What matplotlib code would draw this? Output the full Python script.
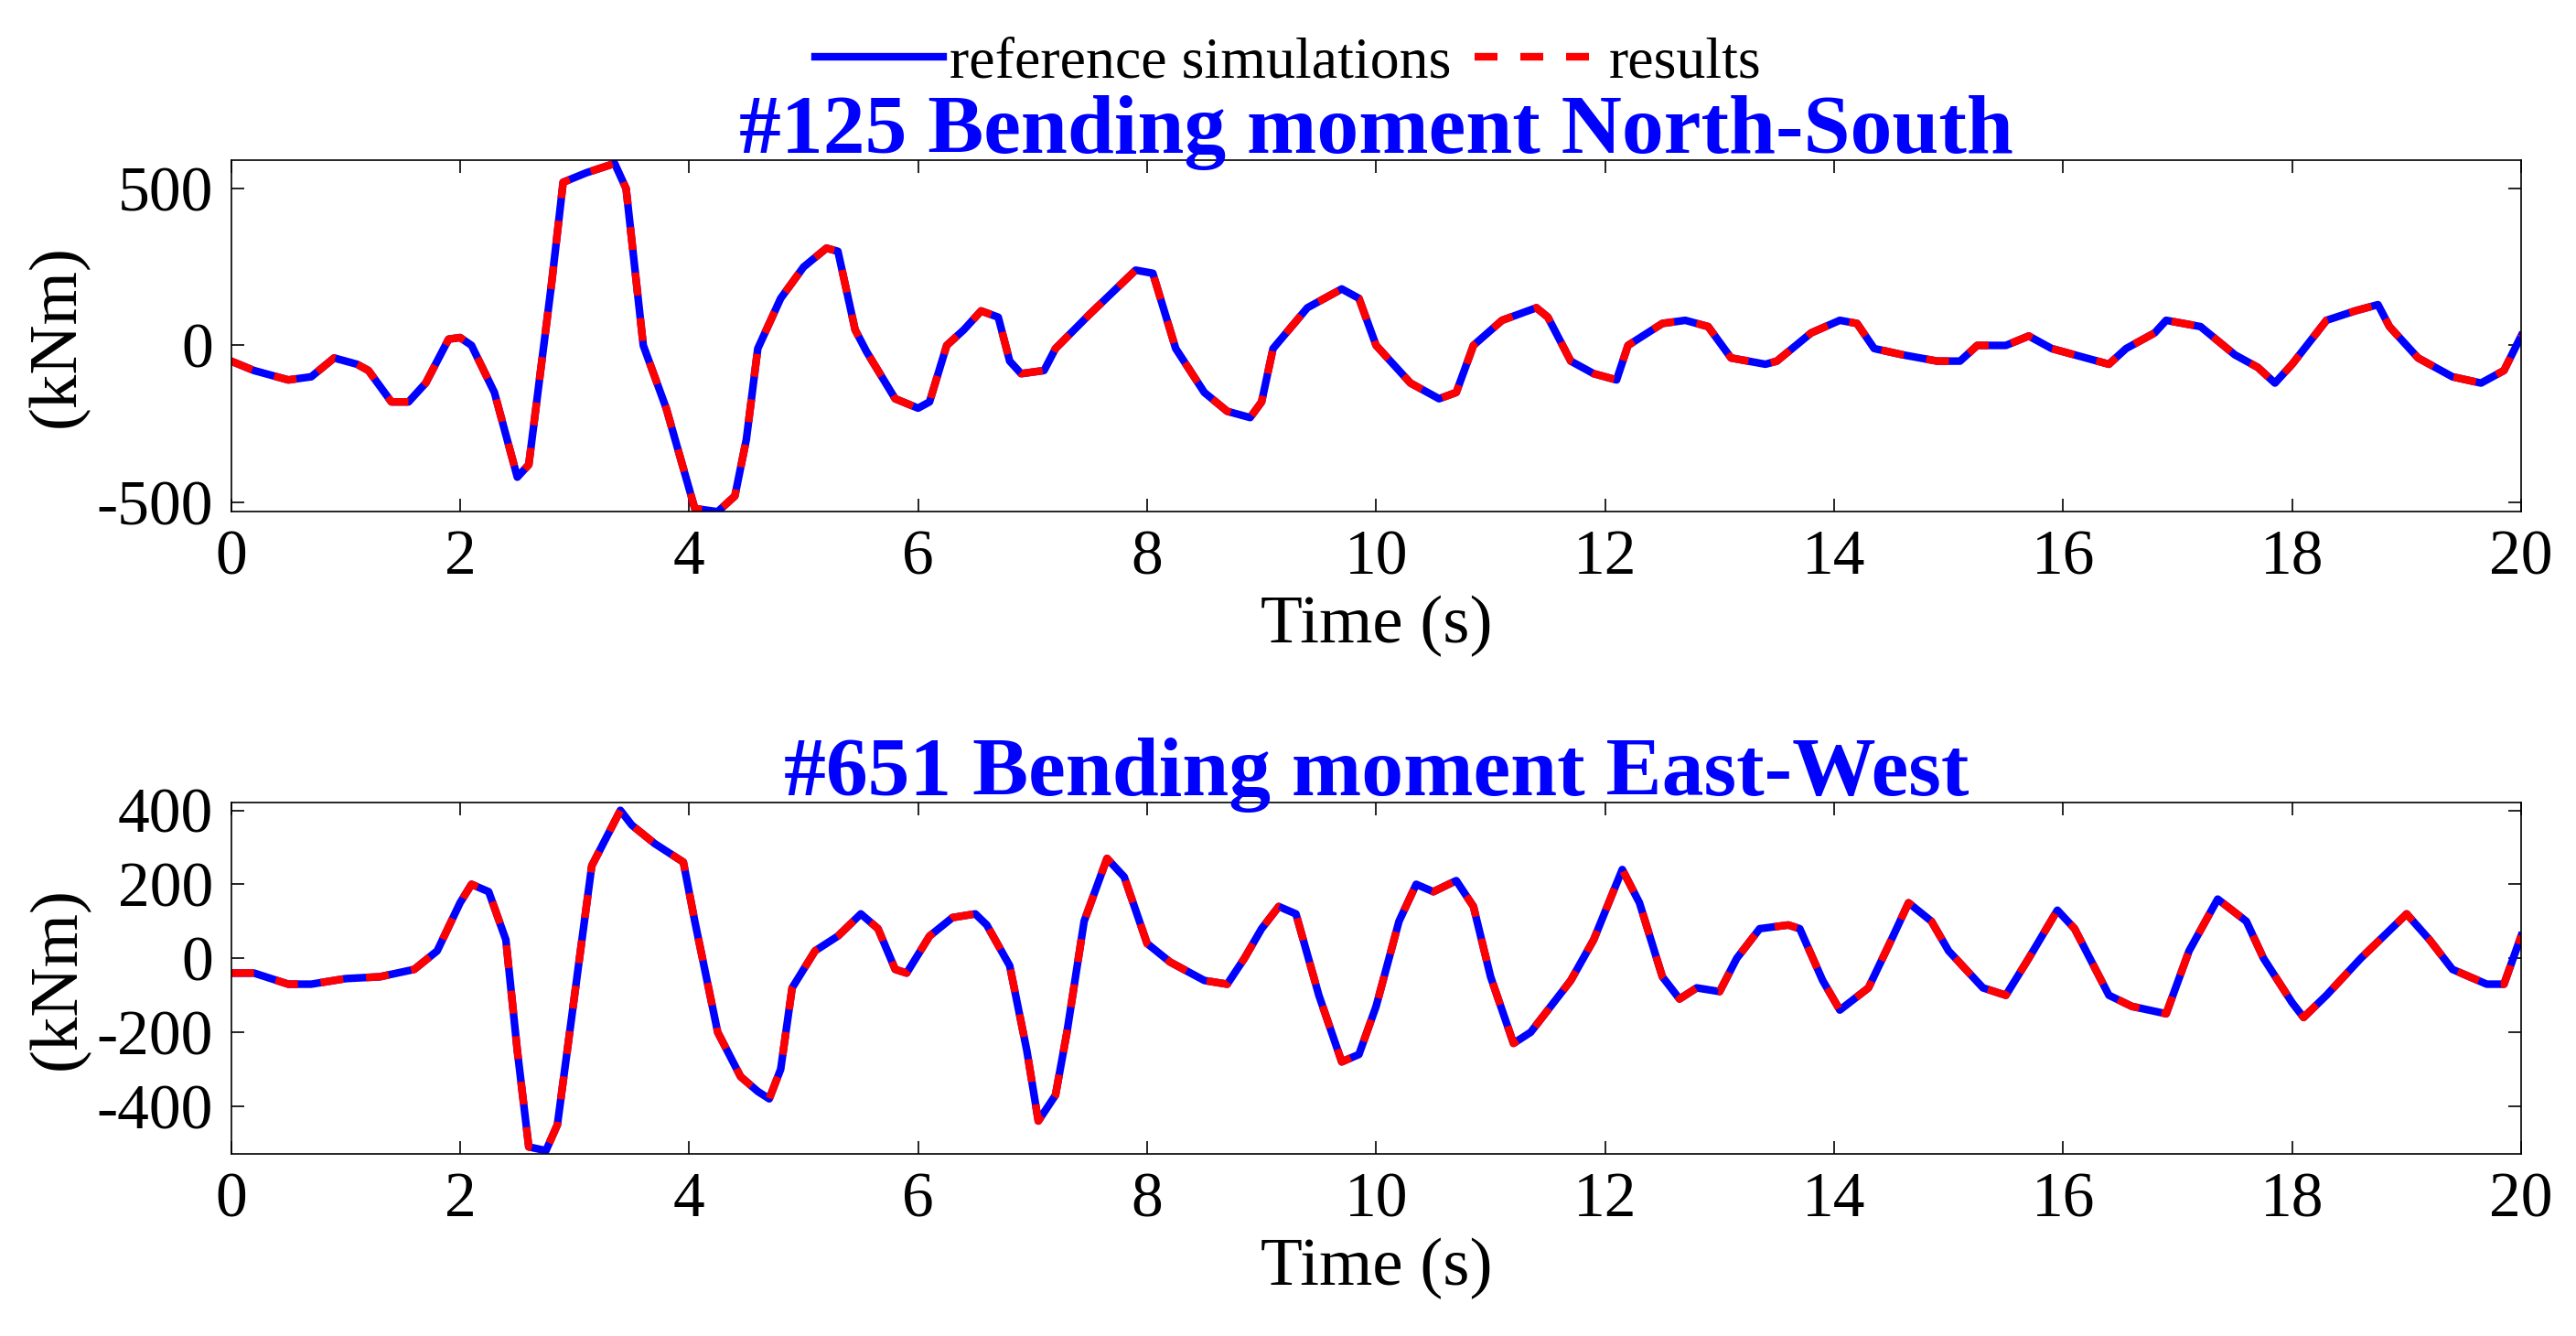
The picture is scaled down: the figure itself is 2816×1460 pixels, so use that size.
import numpy as np
import matplotlib
matplotlib.use("Agg")
import matplotlib.pyplot as plt

plt.rcParams["font.family"] = ["Liberation Serif", "DejaVu Serif"]
plt.rcParams["axes.unicode_minus"] = False

# ---------------------------------------------------------------------
# data
# ---------------------------------------------------------------------
t_ns = [0, 0.2, 0.5, 0.7, 0.9, 1.1, 1.2, 1.4, 1.55, 1.7, 1.9, 2.0, 2.1, 2.3, 2.5, 2.6,
        2.8, 2.9, 3.1, 3.35, 3.45, 3.6, 3.8, 4.05, 4.25, 4.4, 4.5, 4.6, 4.8, 5.0, 5.2,
        5.3, 5.45, 5.55, 5.8, 6.0, 6.1, 6.25, 6.4, 6.55, 6.7, 6.8, 6.9, 7.1, 7.2, 7.5,
        7.9, 8.05, 8.25, 8.5, 8.7, 8.9, 9.0, 9.1, 9.4, 9.7, 9.85, 10.0, 10.3, 10.55,
        10.7, 10.85, 11.1, 11.4, 11.5, 11.7, 11.9, 12.1, 12.2, 12.5, 12.7, 12.9, 13.1,
        13.4, 13.5, 13.8, 14.05, 14.2, 14.35, 14.6, 14.9, 15.1, 15.25, 15.5, 15.7, 15.9,
        16.2, 16.4, 16.55, 16.8, 16.9, 17.2, 17.5, 17.7, 17.85, 18.0, 18.3, 18.55, 18.75,
        18.85, 19.1, 19.4, 19.65, 19.85, 20]
m_ns = [-50, -80, -110, -100, -40, -60, -80, -180, -180, -120, 20, 25, 0, -150, -420, -380,
        200, 520, 550, 580, 500, 0, -200, -520, -530, -480, -300, -10, 150, 250, 310,
        300, 50, -20, -170, -200, -180, 0, 50, 110, 90, -50, -90, -80, -10, 100,
        240, 230, -10, -150, -210, -230, -180, -10, 120, 180, 150, 0, -120, -170,
        -150, 0, 80, 120, 90, -50, -90, -110, 0, 70, 80, 60, -40,
        -60, -50, 40, 80, 70, -10, -30, -50, -50, 0, 0, 30, -10,
        -40, -60, -10, 40, 80, 60, -30, -70, -120, -60, 80, 110, 130,
        60, -40, -100, -120, -80, 30]

t_ew = [0, 0.2, 0.5, 0.7, 1.0, 1.3, 1.6, 1.8, 2.0, 2.1, 2.25, 2.4, 2.5, 2.6, 2.75, 2.85,
        3.0, 3.15, 3.4, 3.5, 3.7, 3.95, 4.05, 4.25, 4.45, 4.6, 4.7, 4.8, 4.9, 5.1, 5.3,
        5.5, 5.65, 5.8, 5.9, 6.1, 6.3, 6.5, 6.6, 6.8, 6.95, 7.05, 7.2, 7.3, 7.45, 7.65,
        7.8, 8.0, 8.2, 8.5, 8.7, 8.85, 9.0, 9.15, 9.3, 9.5, 9.7, 9.85, 10.0, 10.2, 10.35,
        10.5, 10.7, 10.85, 11.0, 11.2, 11.35, 11.5, 11.7, 11.9, 12.15, 12.3, 12.5, 12.65,
        12.8, 13.0, 13.15, 13.35, 13.6, 13.7, 13.9, 14.05, 14.3, 14.5, 14.65, 14.85, 15.0,
        15.3, 15.5, 15.7, 15.95, 16.1, 16.4, 16.6, 16.75, 16.9, 17.1, 17.35, 17.6, 17.75,
        18.0, 18.1, 18.3, 18.6, 19.0, 19.2, 19.4, 19.7, 19.85, 20]
m_ew = [-40, -40, -70, -70, -55, -50, -30, 20, 150, 200, 180, 50, -250, -510, -520, -450,
        -100, 250, 400, 360, 310, 260, 100, -200, -320, -360, -380, -300, -80, 20, 60,
        120, 80, -30, -40, 60, 110, 120, 90, -20, -250, -440, -370, -200, 100, 270,
        220, 40, -10, -60, -70, 0, 80, 140, 120, -100, -280, -260, -130, 100, 200,
        180, 210, 140, -50, -230, -200, -140, -60, 50, 240, 150, -50, -110,
        -80, -90, 0, 80, 90, 80, -60, -140, -80, 50, 150, 100, 20,
        -80, -100, 0, 130, 80, -100, -130, -140, -150, 20, 160, 100, 0,
        -120, -160, -100, 0, 120, 50, -30, -70, -70, 60]

titles = ["#125 Bending moment North-South", "#651 Bending moment East-West"]
y_ticks = [[-500, 0, 500], [-400, -200, 0, 200, 400]]
y_lims = [(-530, 590), (-530, 420)]
x_ticks = list(range(0, 21, 2))

# ---------------------------------------------------------------------
# figure
# ---------------------------------------------------------------------
fig = plt.figure(figsize=(28.16, 14.6), dpi=100)
ax_top = fig.add_axes([0.0897, 0.617, 0.8943 - 0.0053, 0.263])
ax_bot = fig.add_axes([0.0897, 0.136, 0.8943 - 0.0053, 0.263])

for ax, t, m, title, yt, yl in zip([ax_top, ax_bot], [t_ns, t_ew], [m_ns, m_ew],
                                   titles, y_ticks, y_lims):
    ref, = ax.plot(t, m, color="blue", lw=6, label="reference simulations")
    res, = ax.plot(t, m, color="red", lw=6, ls=(0, (3, 3)), label="results")
    ax.set_xlim(0, 20)
    ax.set_ylim(*yl)
    ax.set_xticks(x_ticks)
    ax.set_yticks(yt)
    ax.tick_params(direction="in", top=True, right=True, labelsize=50,
                   length=10, width=1.2, pad=14)
    for s in ax.spines.values():
        s.set_linewidth(1.2)
    ax.set_xlabel("Time (s)", fontsize=54, labelpad=6)
    ax.set_ylabel("(kNm)", fontsize=54, labelpad=6)
    ax.set_title(title, fontsize=66, fontweight="bold", color="blue", pad=6)

fig.legend(handles=[ref, res], loc="upper center", bbox_to_anchor=(0.5, 1.012),
           ncol=2, frameon=False, fontsize=46, handlelength=2.2, columnspacing=0.4,
           handletextpad=0.1)

fig.savefig("out.png", dpi=100)
